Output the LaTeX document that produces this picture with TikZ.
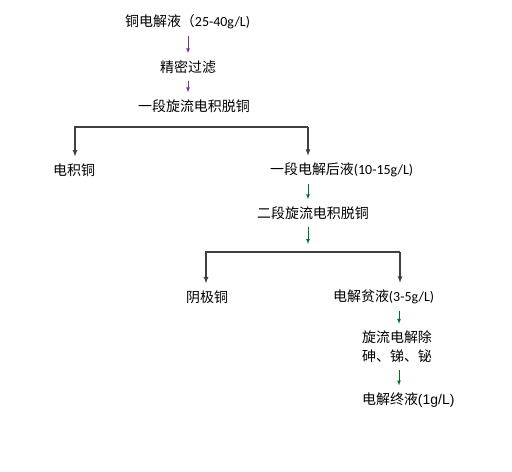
\documentclass[tikz,border=0pt]{standalone}
\usepackage{fontspec}
\setmainfont{Carlito}
\newfontfamily\cjk{Noto Sans CJK SC}
\newfontfamily\arial{Liberation Sans}
\usetikzlibrary{arrows}
\definecolor{flowpurple}{RGB}{112,48,160}
\definecolor{flowgreen}{RGB}{0,110,40}

\tikzset{
  lbl/.style={anchor=west, inner sep=0pt, font=\fontsize{14}{19}\selectfont},
  flowp/.style={-latex, line width=0.7pt, color=flowpurple, shorten <=7bp, shorten >=7bp},
  flowg/.style={-latex, line width=0.7pt, color=flowgreen, shorten <=7bp, shorten >=7bp},
  branch/.style={-latex, line width=1.2pt, color=black!75, shorten >=7bp},
}

\begin{document}
\begin{tikzpicture}[x=1bp, y=-1bp]
\useasboundingbox (0,0) rectangle (512,472);
%columns of the small arrows
\coordinate (col1) at (188,0);
\coordinate (col2) at (308,0);
\coordinate (col3) at (399,0);

%nodes
\node[lbl] (feed) at (125,22) {{\cjk 铜电解液（}25-40g/L)};
\node[lbl] (filter) at (160,67) {\cjk 精密过滤};
\node[lbl] (ew1) at (138,106) {\cjk 一段旋流电积脱铜};
\node[lbl] (cu1) at (53,170) {\cjk 电积铜};
\node[lbl] (sol1) at (270,170) {{\cjk 一段电解后液}(10-15g/L)};
\node[lbl] (ew2) at (257,213) {\cjk 二段旋流电积脱铜};
\node[lbl] (cu2) at (186,297) {\cjk 阴极铜};
\node[lbl] (sol2) at (333,297) {{\cjk 电解贫液}(3-5g/L)};
\node[lbl, align=left] (purify) at (362,347) {\cjk 旋流电解除\\\cjk 砷、锑、铋};
\node[lbl] (sol3) at (362,400) {{\cjk 电解终液}{\arial (1g/L)}};

%small arrows
\draw[flowp] (feed.south -| col1) -- (filter.north -| col1);
\draw[flowp] (filter.south -| col1) -- (ew1.north -| col1);
\draw[flowg] (sol1.south -| col2) -- (ew2.north -| col2);
\draw[flowg] (sol2.south -| col3) -- (purify.north -| col3);
\draw[flowg] (purify.south -| col3) -- (sol3.north -| col3);

%first split
\coordinate (s1l) at (75,127);
\coordinate (s1r) at (308,127);
\draw[branch] (s1r) -- (s1l) -- (s1l |- cu1.north);
\draw[branch] (s1r) -- (s1r |- sol1.north);

%second split
\coordinate (s2m) at (308,244);
\coordinate (s2l) at (206,252);
\coordinate (s2r) at (400,252);
\draw[flowg, shorten >=0pt] (ew2.south -| col2) -- (s2m);
\draw[branch] (s2r) -- (s2l) -- (s2l |- cu2.north);
\draw[branch] (s2r) -- (s2r |- sol2.north);
\end{tikzpicture}
\end{document}
